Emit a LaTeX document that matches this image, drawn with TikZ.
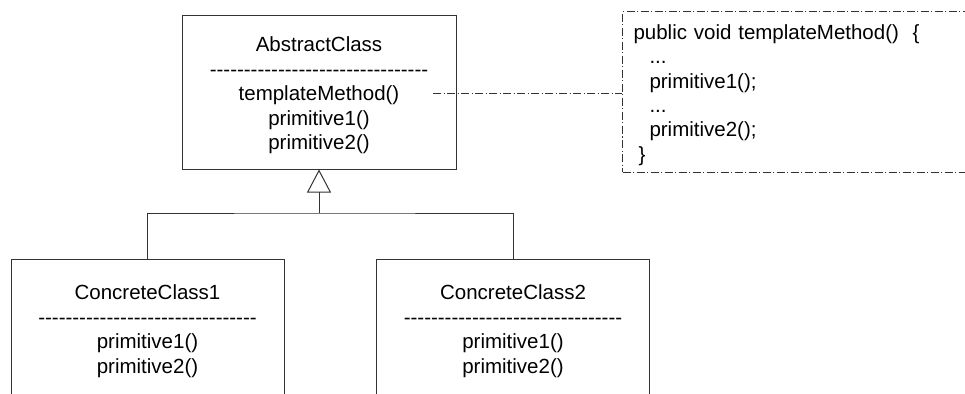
\documentclass[tikz,border=0pt]{standalone}
\usepackage{fontspec}
\newfontfamily\umlfont{Liberation Sans}
\usetikzlibrary{arrows.meta}

\tikzset{
  classbox/.style={draw=black!80, rectangle, minimum width=273pt, align=center, inner sep=0pt,
    font=\umlfont\fontsize{20.5}{24.5}\selectfont},
  notebox/.style={draw=black!80, rectangle, anchor=west, minimum height=160pt, text width=338pt,
    inner xsep=11pt, align=left, dash pattern=on 8pt off 2.5pt on 1pt off 2.5pt,
    font=\umlfont\fontsize{20.5}{24.4}\selectfont},
  notelink/.style={draw=black!80, dash pattern=on 8pt off 2.5pt on 1pt off 2.5pt},
  inherit/.style={draw=black!80, -{Triangle[open, length=23pt, width=24pt]}},
}
\newcommand{\sepline}{--------------------------------}
\newcommand{\topstrut}{\rule{0pt}{21pt}}

\begin{document}
\begin{tikzpicture}[x=1pt, y=-1pt, line width=1pt]
  \useasboundingbox (0,0) rectangle (965,393);
  \clip (0,0) rectangle (965,393);
  % AbstractClass
  \draw (319,92.5) node[classbox, minimum width=274pt, minimum height=153pt] (abstract)
    {\topstrut AbstractClass\\\sepline\\templateMethod()\\primitive1()\\primitive2()};
  % ConcreteClass1 and ConcreteClass2
  \draw (147.5,328) node[classbox, minimum height=138pt] (concrete1)
    {\topstrut ConcreteClass1\\\sepline\\primitive1()\\primitive2()};
  \draw (513,328) node[classbox, minimum height=138pt] (concrete2)
    {\topstrut ConcreteClass2\\\sepline\\primitive1()\\primitive2()};
  % note
  \draw (622,92) node[notebox] (note)
    {\topstrut public void templateMethod()\ \ \{\\
     \hspace*{16pt}...\\
     \hspace*{16pt}primitive1();\\
     \hspace*{16pt}...\\
     \hspace*{16pt}primitive2();\\
     \hspace*{5pt}\}};
  \coordinate (tmend) at (433,94);
  \draw[notelink] (tmend) -- (tmend -| note.west);
  % generalization
  \coordinate (fork) at (319,213);
  \draw[inherit] (fork) -- (abstract.south);
  \draw[draw=black!80] (concrete1.north) |- (fork) -| (concrete2.north);
\end{tikzpicture}
\end{document}
